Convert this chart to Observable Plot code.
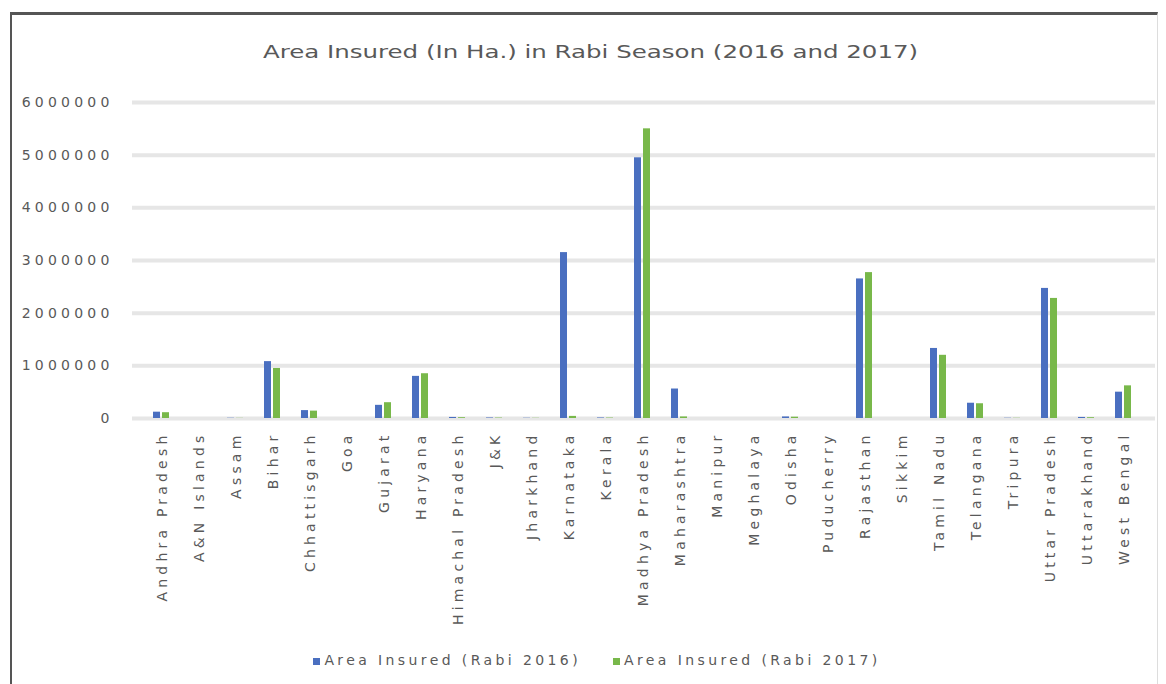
<!DOCTYPE html>
<html>
<head>
<meta charset="utf-8">
<script src="https://cdn.jsdelivr.net/npm/d3@7"></script>
<script src="https://cdn.jsdelivr.net/npm/@observablehq/plot@0.6"></script>
<style>
  html, body { margin: 0; padding: 0; background: #fff; width: 1166px; height: 684px; overflow: hidden; }
  #frame { position: absolute; left: 10px; top: 12px; width: 1148px; height: 690px;
           border-left: 2px solid #555; border-top: 3px solid #555; border-right: 1px solid #ddd; box-sizing: border-box; }
  #title { position: absolute; top: 42px; left: 0; width: 1182px; text-align: center;
           font-family: "DejaVu Sans", sans-serif; font-size: 17px; color: #595959; }
  #title span { display: inline-block; transform: scaleX(1.44); }
  #chart { position: absolute; left: 10px; top: 80px; }
  #legend { position: absolute; top: 652px; left: 0; width: 1194px; text-align: center;
            font-family: "DejaVu Sans", sans-serif; font-size: 14px; color: #595959; letter-spacing: 3.4px; }
  #legend .item { display: inline-block; margin: 0 16px; }
  #legend .sw { display: inline-block; width: 7px; height: 7px; margin-right: 4px; vertical-align: middle; }
</style>
</head>
<body>
<div id="frame"></div>
<div id="title"><span>Area Insured (In Ha.) in Rabi Season (2016 and 2017)</span></div>
<div id="chart"></div>
<div id="legend"></div>
<script>
const states = [
  "Andhra Pradesh", "A&N Islands", "Assam", "Bihar", "Chhattisgarh", "Goa", "Gujarat",
  "Haryana", "Himachal Pradesh", "J&K", "Jharkhand", "Karnataka", "Kerala",
  "Madhya Pradesh", "Maharashtra", "Manipur", "Meghalaya", "Odisha", "Puducherry",
  "Rajasthan", "Sikkim", "Tamil Nadu", "Telangana", "Tripura", "Uttar Pradesh",
  "Uttarakhand", "West Bengal"
];
const rabi2016 = [
  120000, 0, 5000, 1080000, 150000, 0, 250000,
  800000, 20000, 10000, 5000, 3150000, 10000,
  4950000, 560000, 0, 0, 30000, 0,
  2650000, 0, 1330000, 290000, 5000, 2470000,
  20000, 500000
];
const rabi2017 = [
  110000, 0, 3000, 950000, 140000, 0, 300000,
  850000, 15000, 8000, 4000, 40000, 8000,
  5500000, 30000, 0, 0, 25000, 0,
  2770000, 0, 1200000, 280000, 4000, 2280000,
  15000, 620000
];
const yTicks = [0, 1000000, 2000000, 3000000, 4000000, 5000000, 6000000];
const seriesNames = ["Area Insured (Rabi 2016)", "Area Insured (Rabi 2017)"];
const seriesColors = ["#4a6fc0", "#78b84a"];

const data = states.map((s, i) => ({state: s, v2016: rabi2016[i], v2017: rabi2017[i]}));

const chart = Plot.plot({
  width: 1150,
  height: 560,
  marginTop: 22,
  marginBottom: 222,
  marginLeft: 122,
  marginRight: 5,
  style: {fontFamily: "DejaVu Sans, sans-serif", fontSize: "14px", color: "#595959", background: "transparent"},
  x: {domain: states, padding: 0, label: null, tickRotate: -90, tickSize: 0, tickPadding: 13},
  y: {domain: [0, 6000000], ticks: yTicks, label: null, tickSize: 0, tickPadding: 19, tickFormat: d3.format("d")},
  marks: [
    Plot.ruleY(yTicks, {stroke: "#e6e6e6", strokeWidth: 4}),
    Plot.barY(data, {x: "state", y: "v2016", fill: seriesColors[0], insetLeft: 9, insetRight: 21}),
    Plot.barY(data, {x: "state", y: "v2017", fill: seriesColors[1], insetLeft: 18, insetRight: 12})
  ]
});
document.getElementById("chart").appendChild(chart);
d3.select(chart).selectAll("g[aria-label='x-axis tick label'] text").style("letter-spacing", "4.2px");
d3.select(chart).selectAll("g[aria-label='y-axis tick label'] text").style("letter-spacing", "4.2px");

const legend = document.getElementById("legend");
seriesNames.forEach((n, i) => {
  const it = document.createElement("span");
  it.className = "item";
  it.innerHTML = `<span class="sw" style="background:${seriesColors[i]}"></span>${n}`;
  legend.appendChild(it);
});
</script>
</body>
</html>
